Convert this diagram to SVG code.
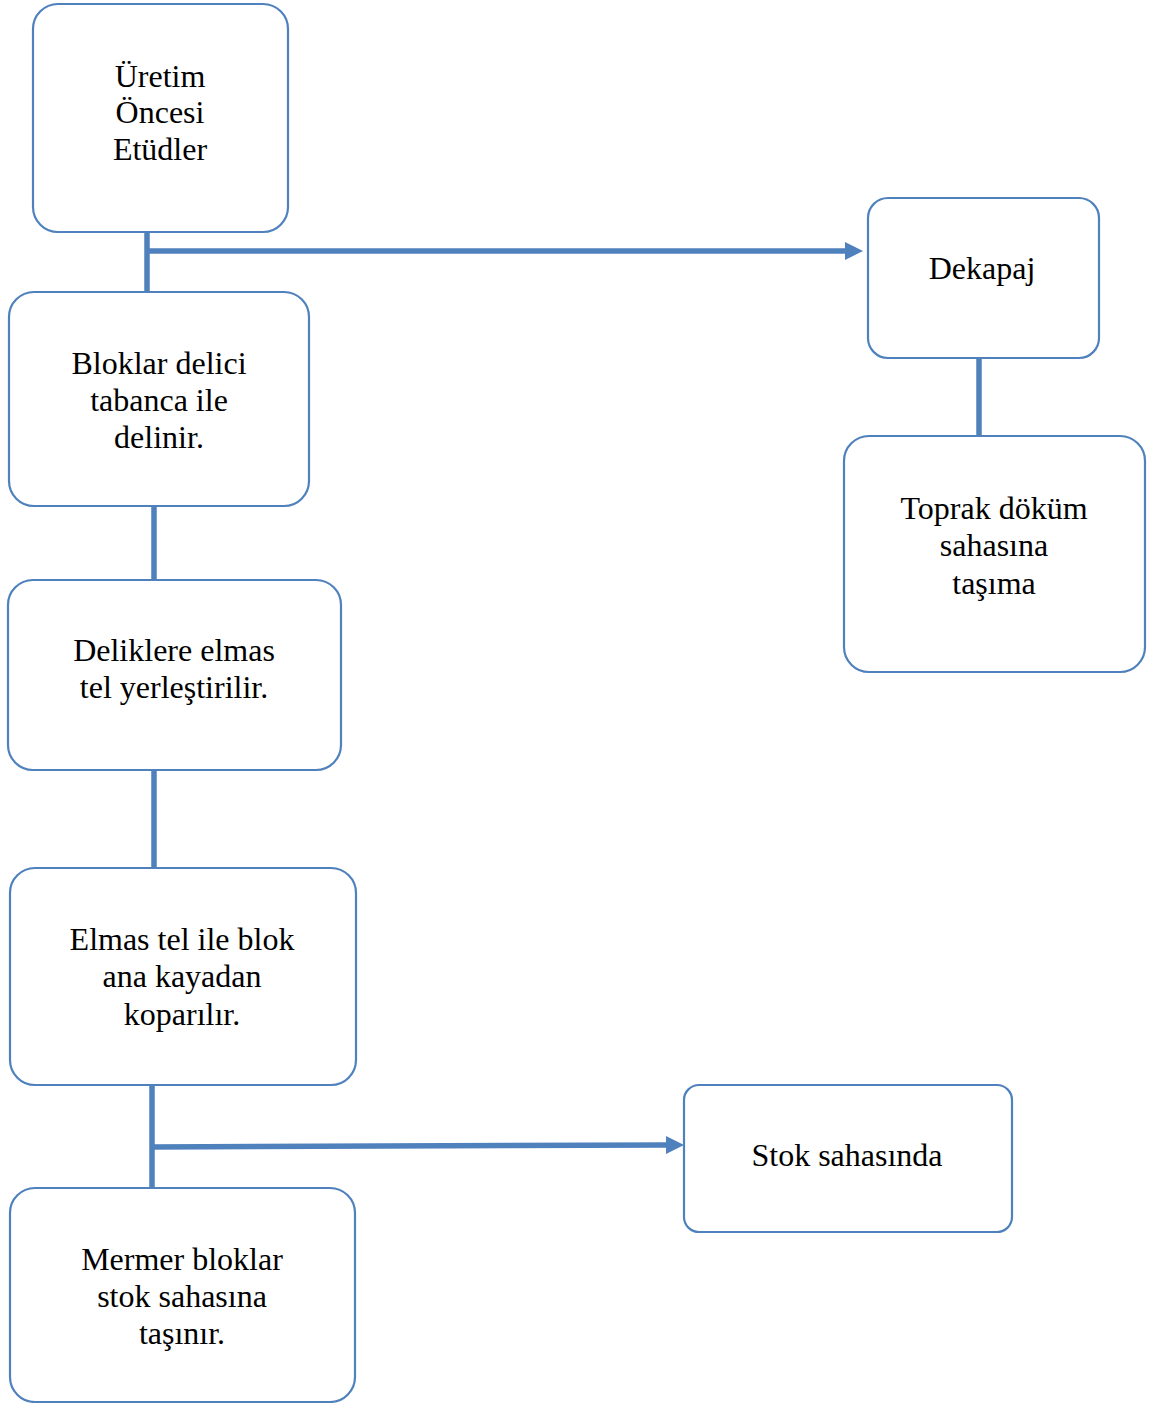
<svg xmlns="http://www.w3.org/2000/svg" width="1149" height="1403" viewBox="0 0 1149 1403">
<style>
.box{fill:#fff;stroke:#4F81BD;stroke-width:2.2}
.t{font-family:"Liberation Serif","Times New Roman",serif;font-size:32px;fill:#000;text-anchor:middle}
.c{stroke:#4F81BD;stroke-width:5.5;fill:none}
</style>
<defs>
<marker id="ah" markerUnits="userSpaceOnUse" markerWidth="20" markerHeight="20" refX="0" refY="10" orient="auto" overflow="visible">
<path d="M0,1 L18,10 L0,19 Z" fill="#4F81BD"/>
</marker>
</defs>
<rect width="1149" height="1403" fill="#fff"/>
<g id="connectors">
<line class="c" x1="147" y1="232" x2="147" y2="292"/>
<line class="c" x1="147" y1="251" x2="845" y2="251" marker-end="url(#ah)"/>
<line class="c" x1="979" y1="358" x2="979" y2="436"/>
<line class="c" x1="154" y1="506" x2="154" y2="580"/>
<line class="c" x1="154" y1="770" x2="154" y2="868"/>
<line class="c" x1="152" y1="1085" x2="152" y2="1188"/>
<line class="c" x1="152" y1="1147" x2="666" y2="1145" marker-end="url(#ah)"/>
</g>
<g id="n1"><rect class="box" x="33" y="4" width="255" height="228" rx="25"/>
<text class="t" x="160" y="87">Üretim</text><text class="t" x="160" y="123">Öncesi</text><text class="t" x="160" y="160">Etüdler</text></g>
<g id="n2"><rect class="box" x="9" y="292" width="300" height="214" rx="25"/>
<text class="t" x="159" y="374">Bloklar delici</text><text class="t" x="159" y="411">tabanca ile</text><text class="t" x="159" y="448">delinir.</text></g>
<g id="n3"><rect class="box" x="8" y="580" width="333" height="190" rx="25"/>
<text class="t" x="174" y="661">Deliklere elmas</text><text class="t" x="174" y="698">tel yerleştirilir.</text></g>
<g id="n4"><rect class="box" x="10" y="868" width="346" height="217" rx="25"/>
<text class="t" x="182" y="950">Elmas tel ile blok</text><text class="t" x="182" y="987">ana kayadan</text><text class="t" x="182" y="1025">koparılır.</text></g>
<g id="n5"><rect class="box" x="10" y="1188" width="345" height="214" rx="25"/>
<text class="t" x="182" y="1270">Mermer bloklar</text><text class="t" x="182" y="1307">stok sahasına</text><text class="t" x="182" y="1344">taşınır.</text></g>
<g id="n6"><rect class="box" x="868" y="198" width="231" height="160" rx="20"/>
<text class="t" x="982" y="279">Dekapaj</text></g>
<g id="n7"><rect class="box" x="844" y="436" width="301" height="236" rx="25"/>
<text class="t" x="994" y="519">Toprak döküm</text><text class="t" x="994" y="556">sahasına</text><text class="t" x="994" y="594">taşıma</text></g>
<g id="n8"><rect class="box" x="684" y="1085" width="328" height="147" rx="15"/>
<text class="t" x="847" y="1166">Stok sahasında</text></g>
</svg>
